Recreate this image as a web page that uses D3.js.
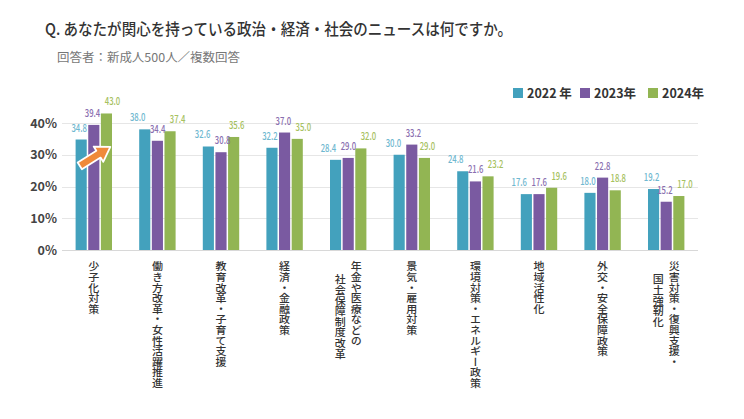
<!DOCTYPE html>
<html><head><meta charset="utf-8">
<script src="https://cdn.jsdelivr.net/npm/d3@7/dist/d3.min.js"></script>
<style>
html,body{margin:0;padding:0;background:#fff;}
svg{display:block;}
text{font-family:"Noto Sans CJK JP","Noto Sans",sans-serif;}
</style></head>
<body>
<svg id="chart" width="744" height="419"></svg>
<script>
const categories = [
  ["少子化対策"],
  ["働き方改革・女性活躍推進"],
  ["教育改革・子育て支援"],
  ["経済・金融政策"],
  ["年金や医療などの","社会保障制度改革"],
  ["景気・雇用対策"],
  ["環境対策・エネルギー政策"],
  ["地域活性化"],
  ["外交・安全保障政策"],
  ["災害対策・復興支援・","国土強靭化"]
];
const seriesNames = ["2022 年","2023年","2024年"];
const values2022 = [34.8,38.0,32.6,32.2,28.4,30.0,24.8,17.6,18.0,19.2];
const values2023 = [39.4,34.4,30.8,37.0,29.0,33.2,21.6,17.6,22.8,15.2];
const values2024 = [43.0,37.4,35.6,35.0,32.0,29.0,23.2,19.6,18.8,17.0];
const yTicks = [0,10,20,30,40];
const title = "Q. あなたが関心を持っている政治・経済・社会のニュースは何ですか。";
const subtitle = "回答者：新成人500人／複数回答";

const series = [values2022, values2023, values2024];
const barColors = ["#43a1bd","#7a5aa1","#92b553"];
const labelColors = ["#6fb8d0","#8a6fb0","#a6c160"];

const svg = d3.select("#chart");

svg.append("text").attr("x",45).attr("y",35)
  .attr("font-size",16).attr("font-weight",500).attr("fill","#333")
  .attr("textLength",467).attr("lengthAdjust","spacingAndGlyphs")
  .text(title);
svg.append("text").attr("x",57).attr("y",62)
  .attr("font-size",12).attr("fill","#777")
  .attr("textLength",183).attr("lengthAdjust","spacingAndGlyphs")
  .text(subtitle);

const catKeys = categories.map((c,i)=>i);
const x = d3.scaleBand().domain(catKeys).range([62,698]).padding(0);
const xs = d3.scaleBand().domain([0,1,2]).range([-18.2,18.2]).paddingInner(0.12);
const y = d3.scaleLinear().domain([0,40]).range([250,123]);

// grid
svg.append("g").selectAll("line").data(yTicks).join("line")
  .attr("x1",62).attr("x2",698)
  .attr("y1",d=>Math.round(y(d))+0.5).attr("y2",d=>Math.round(y(d))+0.5)
  .attr("stroke",d=>d===0?"#d8d8d8":"#e6e6e6").attr("stroke-width",1);

// y axis labels
const yAxis = d3.axisLeft(y).tickValues(yTicks).tickFormat(d=>d+"%").tickSize(0).tickPadding(0);
const ya = svg.append("g").attr("transform","translate(57,0)").call(yAxis);
ya.select(".domain").remove();
ya.selectAll("text").attr("font-size",12.5).attr("font-weight",700).attr("fill","#444")
  .attr("font-family","Roboto,'Noto Sans',sans-serif");

// bars
const groups = svg.append("g").selectAll("g").data(catKeys).join("g")
  .attr("transform",i=>`translate(${x(i)+x.bandwidth()/2},0)`);
groups.selectAll("rect").data(i=>series.map((s,k)=>({k,v:s[i]}))).join("rect")
  .attr("x",d=>xs(d.k)).attr("width",xs.bandwidth())
  .attr("y",d=>y(d.v)).attr("height",d=>y(0)-y(d.v))
  .attr("fill",d=>barColors[d.k]);

// value labels with simple horizontal collision avoidance
const LW = 15.5, GAP = 4.5;
function labelPos(i){
  const arr = series.map((s,k)=>({k,v:s[i],cx:xs(k)+xs.bandwidth()/2,cy:y(s[i])-8}));
  arr[0].cx -= 2; arr[2].cx += 3;
  for(let it=0;it<6;it++){
    for(let k=0;k<2;k++){
      const a=arr[k], b=arr[k+1];
      if(Math.abs(a.cy-b.cy)<12){
        const need = LW+GAP-(b.cx-a.cx);
        if(need>0){
          if(k===0){a.cx-=need*0.7;b.cx+=need*0.3;}
          else {a.cx-=need*0.3;b.cx+=need*0.7;}
        }
      }
    }
  }
  return arr;
}
groups.selectAll("text.val").data(i=>labelPos(i)).join("text")
  .attr("class","val")
  .attr("x",d=>d.cx-LW/2).attr("y",d=>d.cy)
  .attr("font-size",10.5).attr("font-weight",500)
  .attr("font-family","Roboto,'Noto Sans',sans-serif")
  .attr("textLength",LW).attr("lengthAdjust","spacingAndGlyphs")
  .attr("fill",d=>labelColors[d.k]).text(d=>d.v.toFixed(1));

// arrow annotation (relative to first group)
const ax0 = x(0)+x.bandwidth()/2;
const ag = svg.append("g").attr("transform",`translate(${ax0-14},${y(26.5)}) rotate(-32)`);
ag.append("path")
  .attr("d","M0,-4 L22,-4 L22,-9 L36,0 L22,9 L22,4 L0,4 Z")
  .attr("fill","#ef8a3a").attr("stroke","#fff").attr("stroke-width",1.8).attr("stroke-linejoin","round");

// category labels (vertical)
categories.forEach((lines,i)=>{
  const cx = x(i)+x.bandwidth()/2;
  lines.forEach((ln,j)=>{
    const off = lines.length===1?0:(j===0?8:-8);
    svg.append("text")
      .attr("x",cx+off).attr("y",261+j*13)
      .attr("font-size",11).attr("font-weight",500).attr("fill","#333")
      .style("writing-mode","vertical-rl")
      .attr("textLength",ln.length*10.6).attr("lengthAdjust","spacingAndGlyphs")
      .text(ln);
  });
});

// legend
const lx = [513,580,648];
const lg = svg.append("g").selectAll("g").data(seriesNames).join("g")
  .attr("transform",(d,i)=>`translate(${lx[i]},88)`);
lg.append("rect").attr("width",10).attr("height",10).attr("fill",(d,i)=>barColors[i]);
lg.append("text").attr("x",14).attr("y",9.5).attr("font-size",12.5).attr("font-weight",700)
  .attr("fill","#333").text(d=>d);
</script>
</body></html>
